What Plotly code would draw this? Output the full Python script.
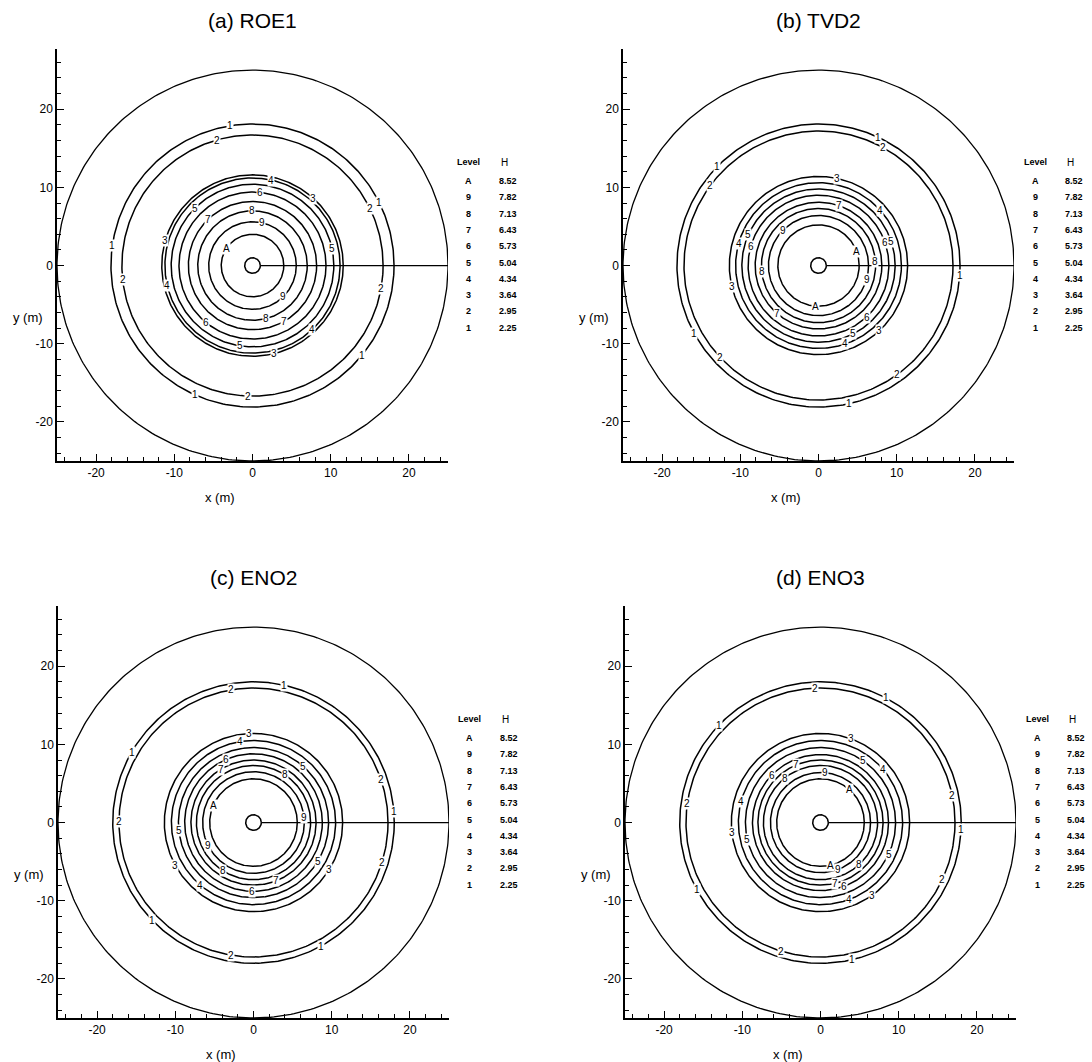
import numpy as np
import plotly.graph_objects as go

# ---------------- data ----------------
level_names = ["A", "9", "8", "7", "6", "5", "4", "3", "2", "1"]
level_H = ["8.52", "7.82", "7.13", "6.43", "5.73", "5.04", "4.34", "3.64", "2.95", "2.25"]

panel_titles = ["(a) ROE1", "(b) TVD2", "(c) ENO2", "(d) ENO3"]

boundary_radius = 25.0
well_radius = 1.0

# contour radii (m), same order as level_names
radii_roe1 = [4.0, 5.6, 7.0, 8.2, 9.4, 10.4, 11.2, 11.6, 16.7, 18.1]
radii_tvd2 = [5.2, 6.4, 7.3, 8.1, 9.0, 9.8, 10.6, 11.4, 17.2, 18.1]
radii_eno2 = [5.6, 6.5, 7.3, 8.0, 8.8, 9.6, 10.5, 11.4, 17.2, 18.0]
radii_eno3 = [5.6, 6.4, 7.3, 8.0, 8.7, 9.6, 10.5, 11.4, 17.2, 18.0]

# contour label placement: level and angle (deg)
lab_roe1_lev = ["4", "6", "3", "5", "2", "1", "8", "7", "9", "3", "A", "5", "1", "2", "4", "2",
                "9", "8", "7", "6", "4", "5", "3", "1", "1", "2", "1", "2"]
lab_roe1_ang = [77.5, 84, 48, 135, 26, 26.4, 91, 133.5, 77.5, 164, 147, 12, 172, 186, 193.5, 350,
                315, 284.5, 299, 231, 313, 261, 284, 320.5, 246, 268, 99, 106]

lab_tvd2_lev = ["1", "2", "1", "2", "3", "7", "4", "5", "4", "6", "9", "6", "5", "A", "8", "8",
                "9", "3", "A", "7", "6", "5", "3", "4", "2", "1", "2", "1", "1"]
lab_tvd2_ang = [65.0, 61.5, 135.7, 143.6, 77.8, 70.7, 42, 156, 164.5, 164.5, 135, 19.5, 18, 20, 4, 186,
                344, 193.5, 266, 229, 313, 297, 313, 289, 223, 208.5, 305.6, 282.5, 356]

lab_eno2_lev = ["1", "2", "1", "2", "3", "4", "6", "7", "8", "5", "2", "1", "A", "9", "5", "9",
                "3", "2", "5", "3", "8", "7", "4", "6", "1", "1", "2"]
lab_eno2_ang = [77.3, 99.6, 150, 179.6, 92.7, 99.7, 113.7, 121.8, 56.5, 48.3, 18.9, 4.6, 156.4, 5.8, 185.8, 206.6,
                208.6, 342.7, 328.5, 328, 237.7, 291, 229.7, 268.7, 223.9, 298.5, 260.5]

lab_eno3_lev = ["2", "1", "1", "3", "5", "4", "7", "6", "8", "9", "A", "2", "2", "4", "1", "3",
                "5", "5", "A", "9", "8", "7", "6", "4", "3", "2", "1", "2", "1"]
lab_eno3_ang = [92.2, 62.4, 136.3, 70, 55.5, 40.7, 113, 136, 128.7, 85, 49.3, 11.4, 171.8, 164.8, 357, 186.5,
                193, 335, 282.6, 291, 312, 283.5, 290.6, 290.4, 305, 335, 208.6, 253, 283]

panel_radii = [radii_roe1, radii_tvd2, radii_eno2, radii_eno3]
panel_lab_lev = [lab_roe1_lev, lab_tvd2_lev, lab_eno2_lev, lab_eno3_lev]
panel_lab_ang = [lab_roe1_ang, lab_tvd2_ang, lab_eno2_ang, lab_eno3_ang]

# ---------------- layout geometry ----------------
W, H = 1092, 1062
# pixel boxes (left, right, top, bottom) for each panel
boxes = [(57, 448, 49, 461), (623, 1014, 49, 461), (58, 449, 606, 1018), (625, 1016, 606, 1018)]
xr = [-25, 25]
yr = [-25, 27.7]

FONT = "Liberation Sans, Arial, Helvetica, sans-serif"

fig = go.Figure()
theta = np.linspace(0, 2 * np.pi, 361)

annotations = []
layout_axes = {}

for i in range(4):
    xa = "x" if i == 0 else f"x{i+1}"
    ya = "y" if i == 0 else f"y{i+1}"
    xkey = "xaxis" if i == 0 else f"xaxis{i+1}"
    ykey = "yaxis" if i == 0 else f"yaxis{i+1}"
    l, r, t, b = boxes[i]
    layout_axes[xkey] = dict(
        domain=[l / W, r / W], range=xr, anchor=ya,
        showline=True, linecolor="black", linewidth=1.5, mirror=False,
        showgrid=False, zeroline=False,
        ticks="inside", ticklen=7, tickwidth=1.2, tickcolor="black",
        tickvals=[-20, -10, 0, 10, 20], ticktext=["-20", "-10", "0", "10", "20"],
        minor=dict(ticks="inside", dtick=2, tick0=0, ticklen=4, tickwidth=1, tickcolor="black"),
        tickfont=dict(family=FONT, size=12, color="black"),
    )
    layout_axes[ykey] = dict(
        domain=[1 - b / H, 1 - t / H], range=yr, anchor=xa,
        showline=True, linecolor="black", linewidth=1.5, mirror=False,
        showgrid=False, zeroline=False,
        ticks="inside", ticklen=7, tickwidth=1.2, tickcolor="black",
        tickvals=[-20, -10, 0, 10, 20], ticktext=["-20", "-10", "0", "10", "20"],
        minor=dict(ticks="inside", dtick=2, tick0=0, ticklen=4, tickwidth=1, tickcolor="black"),
        tickfont=dict(family=FONT, size=12, color="black"),
    )

    # boundary circle and well
    for rad, lw in [(boundary_radius, 1.3), (well_radius, 1.5)]:
        fig.add_trace(go.Scatter(x=rad * np.cos(theta), y=rad * np.sin(theta), mode="lines",
                                 line=dict(color="black", width=lw), xaxis=xa, yaxis=ya,
                                 hoverinfo="skip", showlegend=False))
    # cut line
    fig.add_trace(go.Scatter(x=[well_radius, boundary_radius], y=[0, 0], mode="lines",
                             line=dict(color="black", width=1.3), xaxis=xa, yaxis=ya,
                             hoverinfo="skip", showlegend=False))
    # contour lines
    radii = panel_radii[i]
    for name, rad in zip(level_names, radii):
        fig.add_trace(go.Scatter(x=rad * np.cos(theta), y=rad * np.sin(theta), mode="lines",
                                 line=dict(color="black", width=1.5), xaxis=xa, yaxis=ya,
                                 name=name, hoverinfo="skip", showlegend=False))
    # contour labels
    rmap = dict(zip(level_names, radii))
    for lev, ang in zip(panel_lab_lev[i], panel_lab_ang[i]):
        rad = rmap[lev]
        a = np.deg2rad(ang)
        annotations.append(dict(x=rad * np.cos(a), y=rad * np.sin(a), xref=xa, yref=ya,
                                text=lev, showarrow=False, bgcolor="white", borderpad=0,
                                font=dict(family=FONT, size=10, color="black")))

    xd = f"{xa} domain"
    yd = f"{ya} domain"
    pw, ph = r - l, b - t
    # title
    annotations.append(dict(x=0, y=1 + 29 / ph, xref=xa, yref=yd, text=panel_titles[i],
                            showarrow=False, xanchor="center", yanchor="middle",
                            font=dict(family=FONT, size=21, color="black")))
    # axis titles
    annotations.append(dict(x=(220 - 57) / pw, y=-36 / ph, xref=xd, yref=yd, text="x (m)",
                            showarrow=False, xanchor="center", yanchor="middle",
                            font=dict(family=FONT, size=13, color="black")))
    annotations.append(dict(x=(28 - 57) / pw, y=(461 - 317) / ph, xref=xd, yref=yd, text="y (m)",
                            showarrow=False, xanchor="center", yanchor="middle",
                            font=dict(family=FONT, size=13, color="black")))
    # level table
    lx = (469 - 57) / pw
    hx = (497 - 57) / pw
    hy0 = (461 - 162) / ph
    row0 = (461 - 181) / ph
    dy = 16.3 / ph
    annotations.append(dict(x=lx, y=hy0, xref=xd, yref=yd, text="<b>Level</b>", showarrow=False,
                            xanchor="center", yanchor="middle",
                            font=dict(family=FONT, size=9, color="black")))
    annotations.append(dict(x=hx + 2 / pw, y=hy0, xref=xd, yref=yd, text="H", showarrow=False,
                            xanchor="left", yanchor="middle",
                            font=dict(family=FONT, size=10, color="black")))
    for k, (nm, hv) in enumerate(zip(level_names, level_H)):
        annotations.append(dict(x=lx, y=row0 - k * dy, xref=xd, yref=yd, text=f"<b>{nm}</b>",
                                showarrow=False, xanchor="center", yanchor="middle",
                                font=dict(family=FONT, size=9, color="black")))
        annotations.append(dict(x=hx, y=row0 - k * dy, xref=xd, yref=yd, text=f"<b>{hv}</b>",
                                showarrow=False, xanchor="left", yanchor="middle",
                                font=dict(family=FONT, size=9, color="black")))

fig.update_layout(
    width=W, height=H, margin=dict(l=0, r=0, t=0, b=0),
    paper_bgcolor="white", plot_bgcolor="white",
    showlegend=False, annotations=annotations, **layout_axes,
)

fig.write_html("out.html")
